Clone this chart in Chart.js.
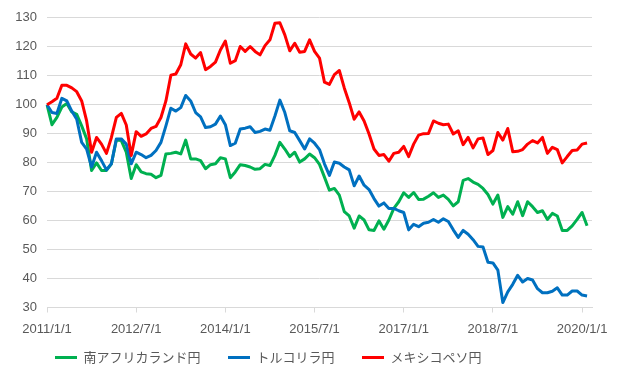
<!DOCTYPE html>
<html>
<head>
<meta charset="utf-8">
<script src="https://cdn.jsdelivr.net/npm/chart.js@4/dist/chart.umd.min.js"></script>
<style>
  html, body { margin: 0; padding: 0; background: #fff; }
</style>
</head>
<body>
<canvas id="myChart" width="620" height="371"></canvas>
<script>
// series names (legend)
const seriesNames = ['南アフリカランド円', 'トルコリラ円', 'メキシコペソ円'];
const seriesColors = ['#00B050', '#0070C0', '#FF0000'];

// monthly index values, 2011/1 .. 2020/2 (2011/1 = 100)
const zarJpy = [100,93.1,95.6,99.2,100.4,97.5,96.7,92.7,88.2,77.3,
  79.9,77.3,77.3,79.6,87.8,87.6,83.6,74.5,79.3,76.8,
  76.2,76,74.8,75.6,83,83.2,83.6,83,87.8,81.3,
  81.3,80.7,77.9,79.3,79.6,81.7,81.3,74.8,76.8,79.3,
  79,78.5,77.7,77.9,79.4,79,82.5,87,84.7,82.1,
  83.6,80.2,81.3,83,81.7,79.4,75,70.5,71.1,68.8,
  63.1,61.6,57.4,61.6,60.2,56.8,56.6,59.9,57,60.2,
  64.2,66.5,69.6,68,69.7,67.3,67.4,68.4,69.6,68,
  68.8,67.3,65.1,66.5,73.9,74.5,73.3,72.5,71.1,69,
  65.7,68.8,61.1,64.8,62.2,66.5,61.7,66.5,64.8,62.8,
  63.4,60.4,62.5,61.6,56.6,56.6,58.2,60.4,62.8,58.2];

const tryJpy = [100,97.3,97,102.2,101.3,97.8,95,87,84.7,78.5,
  83.6,80.7,77.5,79.6,88.2,88.2,86.4,79.6,83.6,82.8,
  81.7,82.5,84.2,87,92.7,98.8,97.8,99,103.2,101.3,
  97.3,95.8,92.1,92.4,93.3,96.1,93.1,85.9,86.7,91.6,
  91.9,92.4,90.4,90.8,91.6,91.2,96.1,101.6,97.3,91,
  90.4,87.6,84.7,88.2,86.7,84.5,79.6,75.6,80.2,79.8,
  78.5,77.5,72,75.4,72.2,70.7,67.6,65,66.1,64.2,
  64.2,63.4,62.8,56.8,58.7,57.9,59.1,59.4,60.4,59.4,
  60.6,59.7,56.8,54.2,56.6,55.3,53.4,51.1,50.9,45.6,
  45.4,42.9,31.7,35.4,38,41.1,38.8,40,39.5,36.5,
  35.1,35.1,35.6,36.8,34.3,34.3,35.7,35.7,34.3,34];

const mxnJpy = [100,101,102.2,106.7,106.7,105.8,104.5,101.3,94.4,83.6,
  88.7,86.4,83.2,88.7,95.6,97,93,82.5,90.7,89.1,
  89.9,91.8,92.5,95.6,101.3,110.2,110.6,113.8,121,117.5,
  116.1,118,112.1,113.2,114.7,118.9,122,114.3,115.2,120.1,
  118.4,120.1,118.4,117.2,120.4,122.4,128.1,128.3,124.1,118.6,
  121.2,118.1,118.4,122.4,118.4,116.1,107.8,107,110.4,111.8,
  105.8,100.7,95,97.5,94.4,89.9,84.7,82.5,82.8,80.5,
  83.2,83.6,85.6,82.1,86.4,89.5,90,90.1,94.4,93.6,
  93.1,93.3,89.9,91,86.2,88.7,85.1,88.2,88.5,82.8,
  84.2,90.4,87.8,91.8,83.8,83.9,84.5,86.4,87.6,86.8,
  88.7,83.2,85.3,84.5,79.9,82.1,84.2,84.4,86.4,86.8];

// x tick labels shown on the axis
const xTickLabels = ['2011/1/1','2012/7/1','2014/1/1','2015/7/1','2017/1/1','2018/7/1','2020/1/1'];
const yMin = 30, yMax = 130, yStep = 10;

// one category per month, 2011/1/1 .. 2020/3/1
labels = [];
for (i = 0; i < 111; i++) {
  labels.push((2011 + Math.floor(i / 12)) + '/' + (i % 12 + 1) + '/1');
}

const tickFont = { family: "'Liberation Sans', 'Noto Sans CJK JP', sans-serif", size: 13 };

// put the legend where the original has it (below the axis labels, shifted right)
const legendShift = {
  id: 'legendShift',
  afterLayout: function(chart) {
    const lg = chart.legend;
    const dy = 323.5 - lg.top;
    lg.top += dy;
    lg.bottom += dy;
    lg.left += 27.5;
    lg.right += 27.5;
  }
};

function ds(i, data, order) {
  return {
    label: seriesNames[i],
    data: data,
    borderColor: seriesColors[i],
    backgroundColor: seriesColors[i],
    pointBorderColor: seriesColors[i],
    pointBackgroundColor: seriesColors[i],
    pointBorderWidth: 3,
    order: order
  };
}

new Chart(document.getElementById('myChart'), {
  type: 'line',
  data: {
    labels: labels,
    datasets: [ds(0, zarJpy, 2), ds(1, tryJpy, 1), ds(2, mxnJpy, 0)]
  },
  plugins: [legendShift],
  options: {
    responsive: false,
    animation: false,
    layout: { padding: { left: 0, right: 28, top: 16, bottom: -17 } },
    elements: {
      line: { borderWidth: 3, tension: 0, borderJoinStyle: 'round' },
      point: { radius: 0, hoverRadius: 0 }
    },
    plugins: {
      tooltip: { enabled: false },
      legend: {
        position: 'bottom',
        align: 'start',
        labels: {
          usePointStyle: true,
          pointStyle: 'line',
          pointStyleWidth: 22,
          padding: 27.5,
          color: '#595959',
          font: { family: "'Noto Sans CJK JP', sans-serif", size: 13 },
          sort: function(a, b) { return a.datasetIndex - b.datasetIndex; }
        }
      }
    },
    scales: {
      x: {
        afterFit: function(s) { s.height = 30; },
        grid: {
          display: true,
          drawOnChartArea: false,
          drawTicks: true,
          tickLength: 5,
          color: '#d9d9d9'
        },
        border: { display: true, color: '#d9d9d9' },
        ticks: {
          autoSkip: false,
          maxRotation: 0,
          padding: 9,
          color: '#595959',
          font: tickFont,
          callback: function(val, idx) {
            const l = labels[idx];
            return xTickLabels.includes(l) ? l : null;
          }
        }
      },
      y: {
        min: yMin,
        max: yMax,
        afterFit: function(s) { s.width = 47; },
        grid: { color: '#d9d9d9', drawTicks: false },
        border: { display: false },
        ticks: {
          stepSize: yStep,
          padding: 10,
          color: '#595959',
          font: tickFont
        }
      }
    }
  }
});
</script>
</body>
</html>
